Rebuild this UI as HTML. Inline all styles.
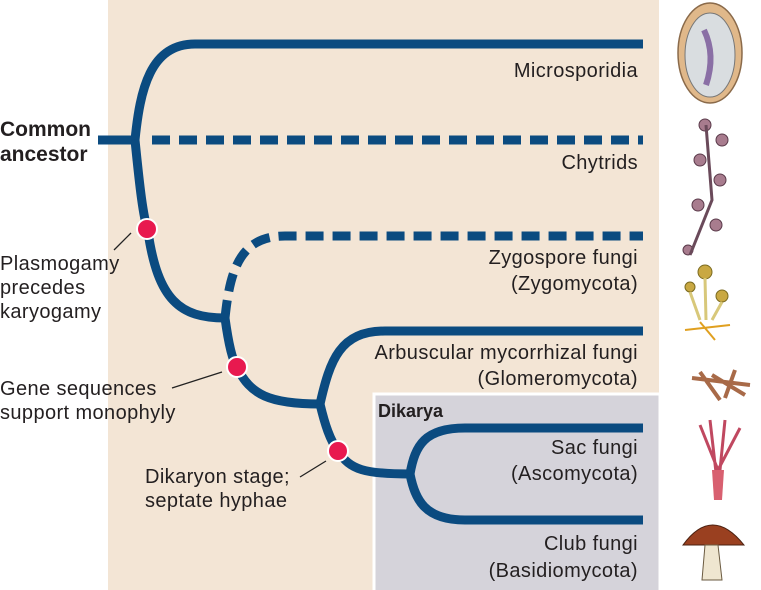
<!DOCTYPE html>
<html><head><style>
html,body{margin:0;padding:0;background:#fff;}
svg{display:block;font-family:"Liberation Sans",Arial,sans-serif;}
</style></head><body>
<svg width="761" height="590" viewBox="0 0 761 590" xmlns="http://www.w3.org/2000/svg">
<rect x="108" y="0" width="551" height="590" fill="#f3e5d5"/>
<rect x="374" y="394" width="286" height="200" fill="#d5d3da" stroke="#fff" stroke-width="3"/>
<g fill="none" stroke="#0b4b80" stroke-width="9">
<path d="M98 140 H135"/>
<path d="M135 140 C140 90 150 44 195 44 H643"/>
<path d="M152 140 H643" stroke-dasharray="18 9"/>
<path d="M135 140 C140 190 143 215 148 232 C158 300 180 318 225 318"/>
<path d="M225 318 C230 270 240 236 285 236 H643" stroke-dasharray="18 9"/>
<path d="M225 318 C228 340 232 360 237 367 C250 395 270 404 320 404"/>
<path d="M320 404 C330 360 340 331 385 331 H643"/>
<path d="M320 404 C325 425 330 440 338 451 C350 470 365 474 410 474"/>
<path d="M410 474 C415 445 425 428 465 428 H643"/>
<path d="M410 474 C415 500 425 520 465 520 H643"/>
</g>
<g fill="#e8194f" stroke="#fff" stroke-width="2">
<circle cx="147" cy="229" r="10"/>
<circle cx="237" cy="367" r="10"/>
<circle cx="338" cy="451" r="10"/>
</g>
<g stroke="#222" stroke-width="1.3">
<line x1="114" y1="250" x2="131" y2="233"/>
<line x1="172" y1="388" x2="222" y2="372"/>
<line x1="300" y1="477" x2="326" y2="461"/>
</g>
<g font-size="20" letter-spacing="0.4" fill="#231f20" text-anchor="end">
<text x="638" y="77">Microsporidia</text>
<text x="638" y="169">Chytrids</text>
<text x="638" y="264">Zygospore fungi</text>
<text x="638" y="290">(Zygomycota)</text>
<text x="638" y="359">Arbuscular mycorrhizal fungi</text>
<text x="638" y="385">(Glomeromycota)</text>
<text x="638" y="454">Sac fungi</text>
<text x="638" y="480">(Ascomycota)</text>
<text x="638" y="550">Club fungi</text>
<text x="638" y="577">(Basidiomycota)</text>
</g>
<g font-size="20" letter-spacing="0.4" fill="#231f20">
<text x="378" y="417" font-weight="bold" font-size="18" letter-spacing="0">Dikarya</text>
<text x="0" y="136" font-weight="bold" font-size="21" letter-spacing="0">Common</text>
<text x="0" y="161" font-weight="bold" font-size="21" letter-spacing="0">ancestor</text>
<text x="0" y="270">Plasmogamy</text>
<text x="0" y="294">precedes</text>
<text x="0" y="318">karyogamy</text>
<text x="0" y="395">Gene sequences</text>
<text x="0" y="419">support monophyly</text>
<text x="145" y="483">Dikaryon stage;</text>
<text x="145" y="507">septate hyphae</text>
</g>
<ellipse cx="710" cy="53" rx="32" ry="50" fill="#e0b88a" stroke="#8a6a4a" stroke-width="1.5"/>
<ellipse cx="710" cy="55" rx="25" ry="42" fill="#d9dde0" stroke="#777"/>
<path d="M704 30 Q716 55 706 85" stroke="#8a6fa5" stroke-width="6" fill="none"/>
<g fill="#a87c8e" stroke="#5a3a4a">
<circle cx="705" cy="125" r="6"/><circle cx="722" cy="140" r="6"/><circle cx="700" cy="160" r="6"/>
<circle cx="720" cy="180" r="6"/><circle cx="698" cy="205" r="6"/><circle cx="716" cy="225" r="6"/><circle cx="688" cy="250" r="5"/>
</g>
<path d="M706 125 L712 200 L690 255" stroke="#6a4a5a" stroke-width="3" fill="none"/>
<g fill="#c9a842" stroke="#7a6a20"><circle cx="705" cy="272" r="7"/><circle cx="722" cy="296" r="6"/><circle cx="690" cy="287" r="5"/></g>
<path d="M705 278 L706 320 M722 302 L712 320 M690 292 L700 320" stroke="#d8c87a" stroke-width="3" fill="none"/>
<path d="M685 330 L730 325 M700 322 L715 340" stroke="#e0a020" stroke-width="2" fill="none"/>
<path d="M692 378 L750 385 M700 372 L720 400 M735 370 L725 398 M712 375 L745 395" stroke="#a86a48" stroke-width="4" fill="none"/>
<path d="M710 420 L718 490 L725 420 M700 425 L718 470 L740 428" stroke="#c04860" stroke-width="3" fill="none"/>
<path d="M712 470 L724 470 L722 500 L714 500 Z" fill="#d86070"/>
<path d="M683 545 Q712 505 744 545 Z" fill="#9a4020" stroke="#4a2010"/>
<path d="M705 545 L702 580 L722 580 L718 545 Z" fill="#efe6d0" stroke="#6a5a40"/>
</svg>
</body></html>
